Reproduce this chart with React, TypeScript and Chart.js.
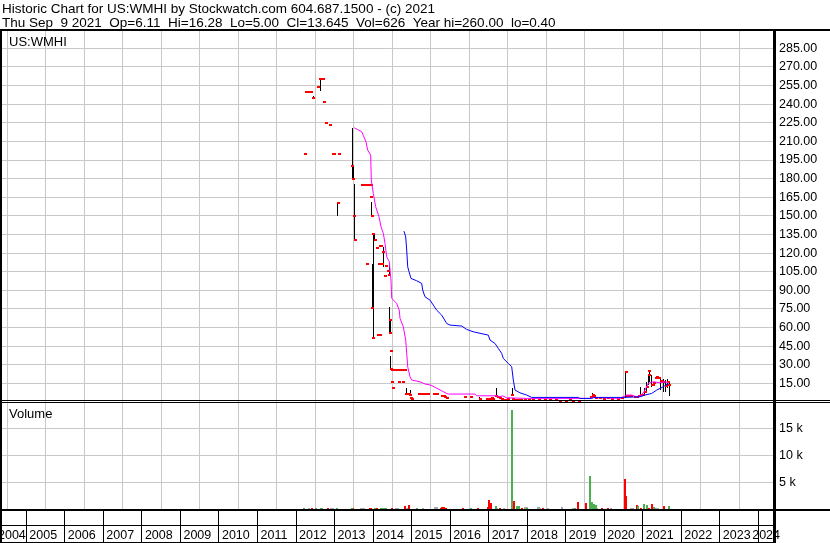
import { useEffect, useRef } from 'react';
import { Chart, registerables } from 'chart.js';

Chart.register(...registerables);

const TITLE = 'Historic Chart for US:WMHI by Stockwatch.com 604.687.1500 - (c) 2021';
const SUBTITLE = 'Thu Sep  9 2021  Op=6.11  Hi=16.28  Lo=5.00  Cl=13.645  Vol=626  Year hi=260.00  lo=0.40';
const SYMBOL = 'US:WMHI';
const VOLUME_TITLE = 'Volume';

const X_MIN = 2004.317;
const X_MAX = 2024.38;
const PRICE_MAX = 299;
const VOLUME_MAX = 19900;

const yearBoundaries = [2005, 2006, 2007, 2008, 2009, 2010, 2011, 2012, 2013, 2014, 2015, 2016, 2017, 2018, 2019, 2020, 2021, 2022, 2023, 2024];
const yearLabels = [2004, 2005, 2006, 2007, 2008, 2009, 2010, 2011, 2012, 2013, 2014, 2015, 2016, 2017, 2018, 2019, 2020, 2021, 2022, 2023, 2024];
const priceTicks = [15, 30, 45, 60, 75, 90, 105, 120, 135, 150, 165, 180, 195, 210, 225, 240, 255, 270, 285];
const volumeTicks = [5000, 10000, 15000];
const volumeTickLabels = ['5 k', '10 k', '15 k'];

// [date, high, low, close]
const ohlcEarly: number[][] = [
  [2012.23, 200, 200, 200], [2012.26, 250, 250, 250], [2012.34, 250, 250, 250], [2012.38, 250, 250, 250],
  [2012.45, 247, 245, 245], [2012.56, 254, 254, 254], [2012.63, 260, 250.5, 260], [2012.66, 260, 260, 260],
  [2012.70, 260, 260, 260], [2012.73, 242, 242, 242], [2012.77, 225, 225, 225], [2012.88, 223, 223, 223],
  [2012.96, 200, 200, 200], [2012.99, 200, 200, 200], [2013.08, 160.5, 150, 160.5], [2013.11, 200, 200, 200],
  [2013.46, 220.5, 180, 190], [2013.48, 190, 179.6, 180], [2013.51, 175.6, 150, 150], [2013.53, 175, 130.5, 130.5],
  [2013.70, 175, 175, 175], [2013.74, 175, 175, 175], [2013.78, 175, 175, 175], [2013.835, 111, 111, 111],
  [2013.86, 175, 175, 175], [2013.90, 175, 175, 175], [2013.94, 175, 175, 175], [2013.955, 165.4, 165.4, 165.4],
  [2013.965, 161, 150, 150], [2013.975, 111, 76, 76], [2013.99, 135.6, 135.6, 135.6], [2014.00, 136, 51.7, 51.7],
  [2014.04, 136, 130, 130.5], [2014.09, 124.3, 124.3, 124.3], [2014.13, 54.2, 54.2, 54.2], [2014.15, 111, 111, 111],
  [2014.17, 54.2, 54.2, 54.2], [2014.19, 126, 126, 126], [2014.21, 126, 126, 126], [2014.23, 111, 111, 111],
  [2014.27, 125, 109, 121], [2014.31, 101.5, 101.5, 101.5], [2014.34, 110, 110, 110], [2014.38, 105.5, 105.5, 105.5],
  [2014.42, 110.9, 102, 102], [2014.435, 76.5, 55.3, 66.3], [2014.445, 66.3, 55.3, 55.8], [2014.455, 37, 26.3, 26.3],
  [2014.465, 41.3, 41.3, 41.3], [2014.48, 26, 26, 26], [2014.484, 16, 16, 16], [2014.51, 11.2, 11.2, 11.2],
  [2014.53, 26, 26, 26], [2014.56, 26, 26, 26], [2014.60, 26, 26, 26], [2014.64, 26, 26, 26],
  [2014.68, 16, 16, 16], [2014.72, 26, 26, 26], [2014.76, 26, 26, 26], [2014.785, 16, 16, 16],
  [2014.82, 26, 26, 26], [2014.86, 11.5, 6.1, 6.6], [2014.89, 6.6, 6.6, 6.6], [2014.92, 6.6, 6.6, 6.6],
  [2014.966, 9.6, 5.6, 5.6], [2014.98, 3.4, 3.4, 3.4], [2015.01, 2.1, 2.1, 2.1],
];

const ohlcMid: number[][] = [
  [2015.18, 6.6, 6.6, 6.6], [2015.22, 6.6, 6.6, 6.6], [2015.27, 6.6, 6.6, 6.6], [2015.31, 6.6, 6.6, 6.6],
  [2015.36, 6.6, 6.6, 6.6], [2015.42, 6.6, 6.6, 6.6], [2015.59, 6.6, 6.6, 6.6], [2015.63, 6.6, 6.6, 6.6],
  [2015.66, 7.5, 6.0, 6.6], [2015.79, 4.8, 4.8, 4.8], [2015.83, 4.8, 4.8, 4.8], [2015.87, 4.0, 4.0, 4.0],
  [2015.93, 3.4, 3.4, 3.4], [2016.39, 3.7, 3.7, 3.7], [2016.54, 4.2, 4.2, 4.2], [2016.77, 4.0, 2.0, 2.3],
  [2016.95, 2.5, 2.5, 2.5], [2017.03, 2.7, 2.7, 2.7], [2017.08, 3.0, 3.0, 3.0], [2017.12, 2.5, 2.5, 2.5],
  [2017.20, 11.2, 4.8, 4.8], [2017.23, 4.2, 4.2, 4.2], [2017.26, 4.2, 4.2, 4.2], [2017.29, 3.0, 3.0, 3.0],
  [2017.35, 2.5, 2.5, 2.5], [2017.42, 2.0, 2.0, 2.0], [2017.50, 2.5, 2.5, 2.5], [2017.61, 11.0, 5.6, 5.6],
  [2017.64, 2.3, 2.3, 2.3], [2017.70, 2.0, 2.0, 2.0], [2017.78, 1.8, 1.8, 1.8], [2017.85, 2.0, 2.0, 2.0],
  [2017.95, 1.5, 1.5, 1.5], [2018.05, 2.0, 2.0, 2.0], [2018.15, 2.0, 2.0, 2.0], [2018.30, 1.5, 1.5, 1.5],
  [2018.45, 1.8, 1.8, 1.8], [2018.60, 1.5, 1.5, 1.5], [2018.75, 1.8, 1.8, 1.8], [2018.85, 1.2, 1.2, 1.2],
  [2019.00, 1.2, 1.2, 1.2], [2019.10, 1.5, 1.5, 1.5], [2019.20, 1.0, 1.0, 1.0], [2019.35, 1.2, 1.2, 1.2],
  [2019.66, 3.7, 3.7, 3.7], [2019.70, 7.4, 4.2, 5.6], [2019.73, 4.5, 4.5, 4.5], [2019.78, 3.5, 3.5, 3.5],
  [2019.89, 3.4, 3.4, 3.4],
];

const ohlcLate: number[][] = [
  [2020.00, 2.5, 2.5, 2.5], [2020.10, 3.0, 3.0, 3.0], [2020.20, 2.2, 2.2, 2.2], [2020.35, 2.5, 2.5, 2.5],
  [2020.45, 3.5, 3.5, 3.5], [2020.557, 25.2, 3.4, 24.3], [2020.58, 4.5, 4.5, 4.5], [2020.62, 4.5, 4.5, 4.5],
  [2020.66, 4.5, 4.5, 4.5], [2020.70, 4.5, 4.5, 4.5], [2020.80, 4.0, 4.0, 4.0], [2020.85, 4.2, 4.2, 4.2],
  [2020.90, 5.0, 5.0, 5.0], [2020.946, 11.8, 4.8, 6.0], [2021.00, 5.5, 5.5, 5.5], [2021.05, 11.5, 4.5, 8.0],
  [2021.10, 16.3, 8.2, 12.0], [2021.15, 22.0, 13.6, 21.7], [2021.17, 25.7, 16.0, 25.2], [2021.23, 21.7, 12.3, 14.0],
  [2021.26, 14.0, 14.0, 14.0], [2021.30, 15.0, 15.0, 15.0], [2021.34, 19.5, 19.5, 19.5], [2021.38, 20.0, 20.0, 20.0],
  [2021.42, 19.5, 19.5, 19.5], [2021.47, 19.0, 9.6, 17.0], [2021.53, 18.5, 7.7, 16.0], [2021.595, 17.7, 8.2, 13.0],
  [2021.647, 18.5, 11.0, 16.0], [2021.689, 16.28, 5.0, 13.645],
];

// moving averages [date, value]
const maFast: number[][] = [
  [2013.513, 221], [2013.59, 219.7], [2013.705, 217.8], [2013.746, 215], [2013.816, 209.7], [2013.86, 203],
  [2013.938, 199], [2013.954, 178.8], [2014.006, 168], [2014.068, 157.3], [2014.154, 149.3], [2014.206, 141.2],
  [2014.266, 135.9], [2014.31, 127.8], [2014.354, 117], [2014.421, 113], [2014.465, 98.3], [2014.484, 83.5],
  [2014.613, 79.5], [2014.68, 74], [2014.699, 67.4], [2014.785, 60.6], [2014.847, 49.9], [2014.873, 39.2],
  [2014.899, 28.4], [2014.959, 20.3], [2015.003, 17.7], [2015.218, 16.3], [2015.348, 14.5], [2015.50, 13.6],
  [2015.66, 11], [2015.911, 6.9], [2015.952, 6.4], [2016.645, 6.4], [2016.689, 5], [2017.208, 5],
  [2017.294, 4.2], [2017.364, 5], [2017.468, 3.4], [2017.987, 2.9], [2019.6, 2.9], [2019.75, 3.6],
  [2020.41, 2.9], [2020.583, 5.6], [2020.713, 5.6], [2020.842, 4.2], [2020.972, 5.6], [2021.058, 9.6],
  [2021.143, 15], [2021.273, 16.3], [2021.447, 15.5], [2021.577, 16.3], [2021.663, 15.5],
];

const maSlow: number[][] = [
  [2014.803, 137.7], [2014.847, 133], [2014.873, 122.4], [2014.899, 109], [2014.933, 105], [2014.984, 99.6],
  [2015.132, 97.7], [2015.262, 95.6], [2015.288, 90.2], [2015.348, 84.8], [2015.478, 82.1], [2015.563, 78.1],
  [2015.651, 74], [2015.781, 70], [2015.911, 63.3], [2015.997, 62], [2016.3, 61.2], [2016.43, 58.5],
  [2016.6, 56.6], [2016.99, 53.9], [2017.035, 49.9], [2017.164, 47.2], [2017.25, 43.2], [2017.338, 39.2],
  [2017.38, 35.1], [2017.51, 31.1], [2017.598, 28.4], [2017.64, 17.7], [2017.684, 9.6], [2017.813, 7.4],
  [2017.987, 5.6], [2018.117, 3.7], [2019.327, 3.7], [2019.37, 2.9], [2019.674, 2.9], [2019.716, 3.7],
  [2020.494, 3.7], [2020.928, 4.2], [2021.058, 5.6], [2021.231, 6.9], [2021.361, 9.6], [2021.532, 12.3],
  [2021.663, 15],
];

// volume [date, shares]
const volumeUp: number[][] = [
  [2012.20, 150], [2012.53, 120], [2012.64, 150], [2012.68, 120], [2013.06, 120], [2013.45, 150],
  [2014.06, 150], [2014.20, 150], [2014.25, 120], [2014.30, 150], [2014.34, 120], [2015.15, 150],
  [2016.53, 150], [2017.18, 600], [2017.60, 18400], [2017.73, 500], [2017.78, 500], [2018.00, 150],
  [2019.25, 150], [2019.62, 6200], [2019.67, 1300], [2019.74, 900], [2019.78, 800], [2020.88, 600],
  [2021.03, 900], [2021.12, 700], [2021.30, 400], [2021.67, 626],
];
const volumeDown: number[][] = [
  [2012.42, 150], [2012.84, 150], [2013.48, 150], [2013.92, 150], [2013.95, 150], [2014.10, 150],
  [2014.48, 150], [2014.50, 120], [2014.83, 500], [2014.94, 700], [2015.76, 150], [2015.80, 300],
  [2015.85, 300], [2015.88, 200], [2016.34, 150], [2016.73, 150], [2016.98, 300], [2017.01, 1700],
  [2017.05, 1200], [2017.30, 150], [2017.65, 1500], [2017.86, 150], [2018.40, 150], [2019.32, 1300],
  [2019.52, 1100], [2019.93, 150], [2020.10, 150], [2020.54, 5500], [2020.57, 2400], [2020.85, 800],
  [2020.95, 150], [2021.15, 200], [2021.25, 900], [2021.55, 500],
];
const volumeFlat: number[][] = [
  [2012.33, 150], [2012.92, 150], [2012.95, 150], [2013.68, 150], [2013.72, 150], [2013.77, 150],
  [2014.60, 150], [2014.65, 150], [2014.88, 150], [2015.29, 150], [2015.60, 300], [2015.65, 300],
  [2017.22, 200], [2017.40, 150], [2017.95, 300], [2018.00, 300], [2018.27, 400], [2018.30, 300],
  [2018.34, 200], [2018.55, 150], [2018.91, 300], [2019.20, 150], [2019.82, 200], [2020.18, 150],
  [2020.70, 200], [2020.74, 200], [2021.35, 200], [2021.40, 200],
];

const FONT = '"Liberation Sans", Arial, Helvetica, sans-serif';

// draws bar / point elements (positioned by Chart.js) snapped to whole pixels
const crispPlugin = {
  id: 'crispMarks',
  afterDatasetDraw(chart: any, args: any) {
    const ds = chart.data.datasets[args.index];
    if (!ds || !ds.crisp) return;
    const ctx = chart.ctx as CanvasRenderingContext2D;
    const area = chart.chartArea;
    ctx.save();
    ctx.beginPath();
    ctx.rect(area.left, area.top, area.right - area.left, area.bottom - area.top);
    ctx.clip();
    ctx.fillStyle = ds.crispColor;
    for (const el of args.meta.data) {
      const p = el.getProps(['x', 'y', 'base', 'width'], true);
      if (ds.crisp === 'bar') {
        const w = Math.max(1, Math.round(p.width));
        const left = Math.round(p.x - w / 2);
        const top = Math.round(Math.min(p.y, p.base));
        const h = Math.round(Math.max(p.y, p.base)) - top;
        if (h > 0) ctx.fillRect(left, top, w, h);
      } else {
        ctx.fillRect(Math.round(p.x) - 1, Math.round(p.y) - 1, 3, 2);
      }
    }
    ctx.restore();
  },
};

const framePlugin = {
  id: 'stockwatchFrame',
  afterDraw(chart: any) {
    const ctx = chart.ctx as CanvasRenderingContext2D;
    const xs = chart.scales.x;
    const yp = chart.scales.y;
    const area = chart.chartArea;
    const W = chart.width;
    const H = chart.height;
    ctx.save();
    ctx.fillStyle = '#000';
    ctx.textAlign = 'left';
    ctx.textBaseline = 'alphabetic';
    ctx.font = `13.5px ${FONT}`;
    ctx.fillText(TITLE, 2, 13);
    ctx.fillText(SUBTITLE, 2, 27);

    ctx.font = `13px ${FONT}`;
    ctx.fillText(SYMBOL, 9, 46);
    ctx.fillText(VOLUME_TITLE, 9, 418);

    const top = Math.round(area.top);
    const right = Math.round(area.right);
    const bottom = Math.round(area.bottom);
    const paneSep = Math.round(yp.bottom);

    ctx.fillRect(0, top - 2, W, 2);
    ctx.fillRect(0, top, 2, H - top);
    ctx.fillRect(0, paneSep - 2, W, 1);
    ctx.fillRect(0, paneSep, W, 1);
    ctx.fillRect(0, bottom, W, 2);
    ctx.fillRect(0, bottom + 16, right + 3, 1);
    ctx.fillRect(0, H - 1, right + 3, 1);

    for (const yb of yearBoundaries) {
      const px = Math.round(xs.getPixelForValue(yb) - 0.5);
      ctx.fillRect(px, bottom, 1, H - bottom);
    }

    ctx.font = `12.5px ${FONT}`;
    for (const yl of yearLabels) {
      const label = String(yl);
      const w = ctx.measureText(label).width;
      const px = xs.getPixelForValue(yl);
      const tx = Math.min(Math.max(px + 3, -2), right + 7 - w);
      ctx.fillText(label, tx, H - 4);
    }

    ctx.fillRect(right, top - 2, 3, H - top + 2);
    ctx.restore();
  },
};

export default function App() {
  const canvasRef = useRef<HTMLCanvasElement | null>(null);

  useEffect(() => {
    const canvas = canvasRef.current;
    if (!canvas) return;
    const ohlc = [...ohlcEarly, ...ohlcMid, ...ohlcLate];
    const toXY = (rows: number[][]) => rows.map((r) => ({ x: r[0], y: r[1] }));
    const volBar = (rows: number[][], color: string, order: number) => ({
      type: 'bar',
      data: toXY(rows),
      xAxisID: 'x',
      yAxisID: 'yv',
      backgroundColor: 'rgba(0,0,0,0)',
      crisp: 'bar',
      crispColor: color,
      borderWidth: 0,
      barThickness: 2,
      grouped: false,
      inflateAmount: 0,
      order,
    });

    const chart = new Chart(canvas, {
      type: 'bar',
      data: {
        datasets: [
          {
            type: 'line',
            data: toXY(maSlow),
            xAxisID: 'x',
            yAxisID: 'y',
            borderColor: '#0000ff',
            borderWidth: 1,
            pointRadius: 0,
            tension: 0,
            order: 0,
          },
          {
            type: 'line',
            data: toXY(maFast),
            xAxisID: 'x',
            yAxisID: 'y',
            borderColor: '#ff00ff',
            borderWidth: 1,
            pointRadius: 0,
            tension: 0,
            order: 1,
          },
          {
            type: 'scatter',
            data: ohlc.map((r) => ({ x: r[0], y: r[3] })),
            xAxisID: 'x',
            yAxisID: 'y',
            backgroundColor: 'rgba(0,0,0,0)',
            crisp: 'point',
            crispColor: '#ff0000',
            borderWidth: 0,
            pointRadius: 0,
            order: 2,
          },
          {
            type: 'bar',
            data: ohlc.map((r) => ({ x: r[0], y: [r[2], r[1]] })),
            xAxisID: 'x',
            yAxisID: 'y',
            backgroundColor: 'rgba(0,0,0,0)',
            crisp: 'bar',
            crispColor: '#000000',
            borderWidth: 0,
            barThickness: 1,
            grouped: false,
            inflateAmount: 0,
            order: 3,
          },
          volBar(volumeUp, '#4caf50', 4),
          volBar(volumeDown, '#ff0000', 5),
          volBar(volumeFlat, '#a8a8a8', 6),
        ] as any,
      },
      options: {
        responsive: false,
        animation: false,
        devicePixelRatio: 1,
        events: [],
        layout: { padding: { top: 31, left: 0, right: 0, bottom: 0 } },
        plugins: { legend: { display: false }, tooltip: { enabled: false } },
        scales: {
          x: {
            type: 'linear',
            min: X_MIN,
            max: X_MAX,
            offset: false,
            grid: { color: '#c8c8c8', lineWidth: 1, drawTicks: false },
            border: { display: false },
            ticks: { display: false, autoSkip: false },
            afterBuildTicks: (axis: any) => {
              axis.ticks = yearBoundaries.map((v) => ({ value: v }));
            },
            afterFit: (axis: any) => {
              axis.height = 34;
            },
          },
          y: {
            type: 'linear',
            position: 'right',
            stack: 'panes',
            stackWeight: 371,
            min: 0,
            max: PRICE_MAX,
            grid: { color: '#c8c8c8', lineWidth: 1, drawTicks: false },
            border: { display: false },
            ticks: {
              autoSkip: false,
              color: '#000',
              padding: 6,
              font: { family: FONT, size: 12.5 },
              callback: (v: any) => Number(v).toFixed(2),
            },
            afterBuildTicks: (axis: any) => {
              axis.ticks = priceTicks.map((v) => ({ value: v }));
            },
            afterFit: (axis: any) => {
              axis.width = 57;
            },
          },
          yv: {
            type: 'linear',
            position: 'right',
            stack: 'panes',
            stackWeight: 107,
            min: 0,
            max: VOLUME_MAX,
            grid: { color: '#c8c8c8', lineWidth: 1, drawTicks: false },
            border: { display: false },
            ticks: {
              autoSkip: false,
              color: '#000',
              padding: 6,
              font: { family: FONT, size: 12.5 },
              callback: (_v: any, i: number) => volumeTickLabels[i],
            },
            afterBuildTicks: (axis: any) => {
              axis.ticks = volumeTicks.map((v) => ({ value: v }));
            },
            afterFit: (axis: any) => {
              axis.width = 57;
            },
          },
        } as any,
      },
      plugins: [crispPlugin, framePlugin],
    } as any);

    return () => chart.destroy();
  }, []);

  return (
    <div style={{ position: 'fixed', left: 0, top: 0, width: 830, height: 543, background: '#fff' }}>
      <canvas ref={canvasRef} width={830} height={543} style={{ display: 'block', width: 830, height: 543 }} />
    </div>
  );
}
